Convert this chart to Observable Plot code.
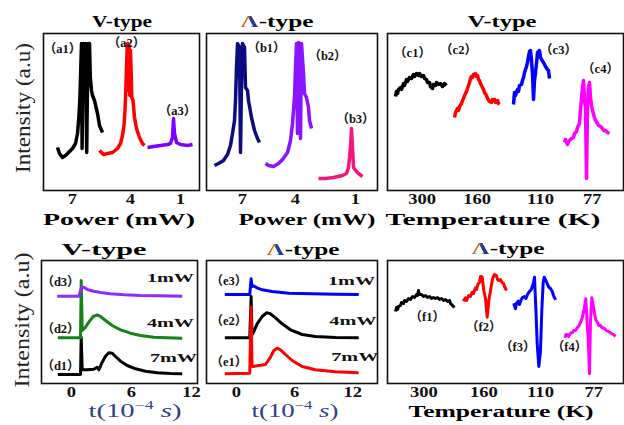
<!DOCTYPE html>
<html><head><meta charset="utf-8">
<script src="https://cdn.jsdelivr.net/npm/d3@7"></script>
<script src="https://cdn.jsdelivr.net/npm/@observablehq/plot@0.6"></script>
<style>
html,body{margin:0;padding:0;background:#fff;}
#fig{position:relative;width:624px;height:425px;overflow:hidden;background:#fff;font-family:'Liberation Serif',serif;color:#000;}
.lbl{position:absolute;white-space:nowrap;line-height:1;}
.pan{position:absolute;}
.pan svg{max-width:none;overflow:visible;}
.lam{background:linear-gradient(90deg,#c8641e 0%,#c8641e 46%,#1f3c96 54%,#1f3c96 100%);-webkit-background-clip:text;background-clip:text;color:transparent;}
</style></head><body><div id="fig"></div><script>
// ---------------- DATA ----------------
// Panel (a) V-type vs power : relative position / intensity (a.u.)
const a1 = [[14,43],[16,37],[19,33],[22,35],[25,38],[29,42],[32,47],[34,57],[35.5,75],[36.5,95],[37.5,130],[38,147],[38.6,42],[39.3,120],[40,147],[41,110],[41.8,147],[42.5,95],[43.2,38],[43.9,100],[44.6,147],[45.4,120],[46,147],[46.8,113],[48,100],[49,95],[51,90],[54,77],[56,65],[59,58]];
const a2 = [[56,40],[60,36],[64,37],[69,38],[74,42],[77,47],[79,55],[80.5,65],[81.5,80],[82.3,100],[83,123],[83.7,143],[84.3,147],[85,100],[85.6,145],[86.3,95],[87,140],[87.7,117],[88.3,93],[89.5,90],[91,73],[93,62],[96,53],[99,47],[101,45]];
const a3 = [[104,43],[110,44],[117,45],[124,46],[127,47],[129,53],[130,72],[131,57],[133,48],[137,46],[144,45],[149,46]];
const aTicks = [29, 87, 137];
const aTickLabels = ["7", "4", "1"];
const aNotes = ["（a1）", "（a2）", "（a3）"];
const aNoteAt = [[19,142],[83,148],[134,80]];

// Panel (b) Λ-type vs power
const b1 = [[8,25],[12,27],[17,30],[21,36],[24,45],[26,57],[28,70],[29,90],[30,123],[31,147],[33,143],[34,38],[35,107],[36,147],[38,143],[39,103],[41,100],[42,90],[45,73],[48,60],[51,52],[53,48]];
const b2 = [[59,27],[62,25],[67,24],[72,27],[76,31],[81,38],[84,50],[86,67],[88,93],[89,123],[90,147],[91,57],[92,148],[94,52],[95,147],[97,117],[98,97],[100,93],[102,83],[103,70],[105,62]];
const b3 = [[112,12],[119,12],[127,13],[136,15],[140,17],[142,23],[144,43],[145,62],[146,43],[147,23],[150,19],[152,17],[156,14]];
const bTicks = [36, 89, 149];
const bTickLabels = ["7", "4", "1"];
const bNotes = ["（b1）", "（b2）", "（b3）"];
const bNoteAt = [[60,143],[121,135],[149,72]];

// Panel (c) V-type vs temperature
const c1 = [[8,94],[9,99],[10,97],[11,101],[13,103],[14,101],[16,107],[17,105],[19,111],[20,109],[22,113],[24,112],[26,116],[27,114],[29,117],[31,115],[32,117],[34,114],[36,115],[37,112],[39,111],[40,108],[42,108],[43,104],[45,102],[46,106],[48,105],[49,108],[51,106],[53,107],[55,104],[57,107],[59,105]];
const c2 = [[67,73],[68,78],[70,82],[71,80],[72,84],[74,87],[75,90],[76,92],[77,95],[79,99],[80,102],[81,105],[82,108],[83,112],[84,114],[85,113],[86,116],[87,115],[88,117],[89,114],[90,115],[91,111],[92,110],[93,107],[94,105],[96,101],[97,98],[99,95],[100,92],[102,89],[104,88],[105,91],[107,91],[108,88],[110,90],[111,87],[112,86]];
const c3 = [[126,86],[127,98],[128,95],[130,101],[131,99],[132,105],[134,106],[135,110],[136,113],[137,118],[139,124],[140,128],[141,134],[142,139],[143,140],[144,130],[145,117],[146,91],[147,110],[148,118],[149,127],[150,138],[152,140],[153,133],[154,131],[156,128],[157,126],[158,124],[160,121],[161,120],[162,112]];
const c4 = [[177,48],[178,51],[180,46],[181,49],[182,50],[184,52],[186,53],[187,57],[189,59],[190,63],[192,67],[193,80],[194,92],[195,103],[196,110],[197,90],[198,83],[199,12],[200,83],[201,103],[202,108],[203,93],[204,85],[205,80],[207,73],[208,70],[210,67],[211,65],[213,64],[215,62],[216,60],[218,60],[220,58],[222,57]];
const cTicks = [34.7, 89.7, 153, 204.7];
const cTickLabels = ["300", "160", "110", "77"];
const cNotes = ["（c1）", "（c2）", "（c3）", "（c4）"];
const cNoteAt = [[25,138],[71,141],[171,141],[213,122]];

// Panel (d) V-type time traces: t (1e-4 s) / intensity
const d1 = [[-1.37,9],[-0.1,9],[0.9,9],[0.97,46.3],[1.07,13.7],[1.57,13.7],[2.23,14.3],[2.57,16.3],[2.73,13.7],[3.07,21.3],[3.4,27.3],[3.73,30.7],[4.07,30.3],[4.4,27],[4.9,22.3],[5.57,18],[6.4,14.7],[7.4,12.3],[8.57,10.7],[9.9,10],[11.07,9.7]];
const d2 = [[-1.37,45.7],[-0.1,45.7],[0.9,45.7],[0.97,103],[1.07,53],[1.4,56.3],[1.73,61.3],[2.17,67],[2.57,68.7],[2.9,67],[3.4,63],[4.07,58],[4.9,53.7],[5.9,50.3],[6.9,48],[8.23,46.3],[9.57,45.7],[11.07,45.3]];
const d3 = [[-1.43,87.3],[-0.43,87.3],[0.73,87.3],[1.0,95.7],[1.23,96.3],[1.63,93.7],[2.23,92.3],[2.9,91],[3.9,89.7],[5.23,88.7],[6.9,88],[8.9,87.7],[11.07,87.3]];
const dTicks = [0, 6, 12];
const dTickLabels = ["0", "6", "12"];
const dNotes = ["（d3）", "（d2）", "（d1）"];
const dNoteAt = [[-1.1,102],[-1.1,54.7],[-1.1,18]];
const dPowers = ["1mW", "4mW", "7mW"];
const dPowerAt = [[9.9,106.3],[9.9,61.3],[10.2,26.3]];

// Panel (e) Λ-type time traces
const e1 = [[-1.2,9.7],[1.37,10.3],[1.51,76.3],[1.6,17],[1.68,17],[2.3,18],[2.99,19],[3.51,26.3],[3.85,33],[4.19,35.3],[4.54,33.7],[5.05,29],[5.74,23],[6.77,17],[8.14,13.7],[10.2,11.7],[12.6,10.7]];
const e2 = [[-1.2,45.7],[1.37,45.7],[1.51,87],[1.6,49.7],[1.68,49.7],[2.13,59.7],[2.65,67],[3.09,70.7],[3.51,69.7],[4.02,65.7],[4.71,59.7],[5.57,53.7],[6.77,49],[8.14,47],[10.2,46],[12.6,45.7]];
const e3 = [[-1.2,89],[1.37,89],[1.51,104.7],[1.6,97],[1.68,98],[2.13,95.7],[2.65,93.7],[3.68,92],[5.4,90.3],[7.8,89.7],[10.2,89.3],[12.6,89]];
const eTicks = [0, 6, 12];
const eTickLabels = ["0", "6", "12"];
const eNotes = ["（e3）", "（e2）", "（e1）"];
const eNoteAt = [[-0.79,103],[-0.79,63],[-0.79,21.3]];
const ePowers = ["1mW", "4mW", "7mW"];
const ePowerAt = [[11.86,103],[12.0,63],[12.2,27.3]];

// Panel (f) Λ-type vs temperature
const f1 = [[8,72],[9,76],[10,74],[11,77],[13,78],[14,81],[16,80],[17,83],[19,82],[21,85],[23,84],[25,87],[27,86],[29,89],[30,88],[31,93],[32,89],[34,89],[36,87],[38,88],[40,86],[42,87],[44,85],[46,86],[48,85],[50,86],[52,84],[54,85],[56,83],[58,84],[60,82],[62,83],[63,80],[65,78],[67,76]];
const f2 = [[75.7,82.3],[78,85.7],[79,83],[81.3,88],[83,87],[84.7,91.3],[86,90],[88,95.7],[89,94],[90.7,99.7],[92,101],[93,107],[94.7,106.3],[96.3,93],[98,84.7],[99.7,66.3],[101.3,83],[103,93],[105,104.7],[107,109],[109,108],[110,104],[111.3,103],[113,104],[114.3,101.3],[116,100],[117,97],[119,93]];
const f3 = [[126.3,80.3],[128,74.7],[129,80],[130.7,82.3],[132,79],[133.7,83.7],[135,86],[137,87],[138.5,85],[140.3,89.7],[142,92],[143.7,93.7],[145.7,99.7],[147,106.3],[148.3,76.3],[149.7,39.7],[151.3,17],[153,33],[154.3,73],[155.7,101.3],[156.7,106.3],[158.7,102.3],[160,99],[161.3,96.3],[163,95],[164.7,92.3],[166,88],[167,85.7],[168.3,83.7]];
const f4 = [[177.3,45.7],[178.5,49],[179.7,49],[181,47],[183,50.3],[185,51],[186.3,53],[188,53],[189.7,55.7],[191,57],[192.3,59.7],[193.5,62],[194.7,65.7],[196.7,74.7],[198.3,84.7],[199.7,59.7],[200.7,46.3],[202,9.7],[203,63],[204.3,85.7],[206,76.3],[207,70],[208.3,63.7],[210,61],[211.3,58],[213,58],[214.7,55.7],[217,55],[219,53],[221,52],[223.7,50.3],[226,49],[228,47]];
const fTicks = [36.3, 96.3, 153, 206.3];
const fTickLabels = ["300", "160", "110", "77"];
const fNotes = ["（f1）", "（f2）", "（f3）", "（f4）"];
const fNoteAt = [[39.7,66.3],[96.3,56.3],[130.3,36.3],[182,36.3]];

// ---------------- RENDERING ----------------
const fig = document.getElementById("fig");
const SERIF = "'Liberation Serif','Noto Sans CJK SC',serif";

// widen a text horizontally about its anchor (keeps Plot's translate)
function stretchText(el, k) {
  const t = el.getAttribute("transform") || "";
  el.setAttribute("transform", `${t} scale(${k},1)`);
}

function panel(p) {
  const m = 3, mb = 30;
  const fmt = new Map(p.ticks.map((t, i) => [t, p.tickLabels[i]]));
  const marks = p.series.map(s => Plot.line(s.data, {
    x: d => d[0], y: d => d[1], stroke: s.color, strokeWidth: s.width || p.lw,
    strokeLinejoin: "round", strokeLinecap: "butt"
  }));
  marks.push(Plot.text(p.notes.map((t, i) => ({x: p.noteAt[i][0], y: p.noteAt[i][1], t})), {
    x: "x", y: "y", text: "t", fontSize: 12.5, fontWeight: "bold", fontFamily: SERIF, fill: "#111"
  }));
  if (p.powers) marks.push(Plot.text(p.powers.map((t, i) => ({x: p.powerAt[i][0], y: p.powerAt[i][1], t})), {
    x: "x", y: "y", text: "t", fontSize: 13.5, fontWeight: "bold", fontFamily: SERIF, fill: "#111"
  }));
  marks.push(Plot.axisX(p.ticks, {
    tickSize: 0, tickPadding: 3, tickFormat: d => fmt.get(d), label: null,
    fontSize: 14.5, fontWeight: "bold", fontFamily: SERIF, fill: "#111"
  }));
  marks.push(Plot.frame({stroke: "#111", strokeWidth: 1.6}));
  const svg = Plot.plot({
    width: p.w + 2 * m, height: p.h + m + mb,
    marginLeft: m, marginRight: m, marginTop: m, marginBottom: mb,
    x: {domain: p.xDomain, label: null},
    y: {domain: p.yDomain, axis: null, label: null},
    style: {background: "transparent", overflow: "visible", fontFamily: SERIF},
    marks
  });
  svg.querySelectorAll('g[aria-label="x-axis tick label"] text').forEach(el => stretchText(el, 1.28));
  svg.querySelectorAll("text").forEach(el => { if (/mW/.test(el.textContent)) stretchText(el, 1.5); });
  const div = document.createElement("div");
  div.className = "pan";
  div.style.left = (p.left - m) + "px";
  div.style.top = (p.top - m) + "px";
  div.appendChild(svg);
  fig.appendChild(div);
}

function label(html, cx, cy, targetW, css, rotate) {
  const d = document.createElement("div");
  d.className = "lbl";
  d.style.cssText += `left:${cx}px;top:${cy}px;${css}`;
  d.innerHTML = html;
  fig.appendChild(d);
  const w = d.getBoundingClientRect().width;
  const k = targetW / w;
  d.style.transform = `translate(-50%,-50%) ${rotate ? "rotate(-90deg) " : ""}scaleX(${k})`;
}

panel({left: 43, top: 33, w: 156, h: 157, xDomain: [0, 156], yDomain: [0, 157], lw: 3.5,
  series: [{data: a1, color: "#000"}, {data: a2, color: "#ff0000"}, {data: a3, color: "#7f00ff"}],
  ticks: aTicks, tickLabels: aTickLabels, notes: aNotes, noteAt: aNoteAt});
panel({left: 206, top: 33, w: 171, h: 157, xDomain: [0, 171], yDomain: [0, 157], lw: 3.5,
  series: [{data: b1, color: "#0c0c80"}, {data: b2, color: "#8a14ff"}, {data: b3, color: "#f5167f"}],
  ticks: bTicks, tickLabels: bTickLabels, notes: bNotes, noteAt: bNoteAt});
panel({left: 387, top: 33, w: 236, h: 157, xDomain: [0, 236], yDomain: [0, 157], lw: 3.5,
  series: [{data: c1, color: "#000"}, {data: c2, color: "#ff0000"}, {data: c3, color: "#0000ff"}, {data: c4, color: "#ff00ff"}],
  ticks: cTicks, tickLabels: cTickLabels, notes: cNotes, noteAt: cNoteAt});
panel({left: 41, top: 260, w: 156, h: 123, xDomain: [-3.0, 12.6], yDomain: [0, 123], lw: 3,
  series: [{data: d1, color: "#000"}, {data: d2, color: "#178217"}, {data: d3, color: "#8c2cff"}],
  ticks: dTicks, tickLabels: dTickLabels, notes: dNotes, noteAt: dNoteAt, powers: dPowers, powerAt: dPowerAt});
panel({left: 206, top: 260, w: 171, h: 123, xDomain: [-3.09, 14.54], yDomain: [0, 123], lw: 3,
  series: [{data: e3, color: "#0000ff"}, {data: e2, color: "#000"}, {data: e1, color: "#ff0000"}],
  ticks: eTicks, tickLabels: eTickLabels, notes: eNotes, noteAt: eNoteAt, powers: ePowers, powerAt: ePowerAt});
panel({left: 387, top: 260, w: 236, h: 123, xDomain: [0, 236], yDomain: [0, 123], lw: 3,
  series: [{data: f1, color: "#000"}, {data: f2, color: "#ff0000"}, {data: f3, color: "#0000ff"}, {data: f4, color: "#ff00ff"}],
  ticks: fTicks, tickLabels: fTickLabels, notes: fNotes, noteAt: fNoteAt});

const B = "font-weight:bold;font-size:17px;";
const LAM = '<span class="lam">Λ</span>-type';
label("V-type", 121.7, 20.5, 60, B);
label(LAM, 276.7, 20.5, 73, B);
label("V-type", 502, 20.5, 69, B);
label("Power (mW)", 119, 219, 152, "font-weight:bold;font-size:17px;");
label("Power (mW)", 306.7, 219, 137, "font-weight:bold;font-size:17px;");
label("Temperature (K)", 492.5, 219, 215, "font-weight:bold;font-size:17px;");
label("V-type", 104, 249, 85, B);
label(LAM, 303, 249, 73, B);
label(LAM, 508, 248, 73, B);
const TL = 't(10<span style="font-size:0.62em;vertical-align:0.6em">−4</span><i> s</i>)';
label(TL, 135, 410, 93, "font-size:19px;color:#2f3f8f;");
label(TL, 295, 410, 87, "font-size:19px;color:#2f3f8f;");
label("Temperature (K)", 501, 411, 185, "font-weight:bold;font-size:17px;");
label("Intensity (a.u)", 23, 108, 130, "font-size:20px;color:#222;", true);
label("Intensity (a.u)", 22, 320, 135, "font-size:20px;color:#222;", true);
</script></body></html>
